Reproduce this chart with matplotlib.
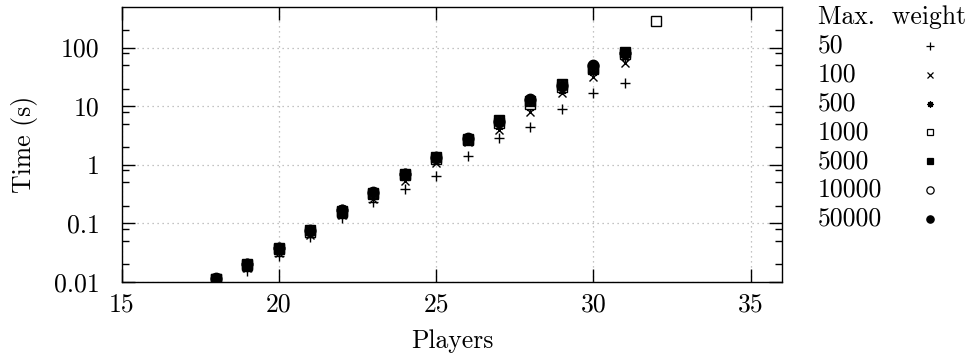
import matplotlib
matplotlib.use("Agg")
import matplotlib.pyplot as plt
from matplotlib.lines import Line2D
from matplotlib.ticker import FixedLocator, NullFormatter

# ================= DATA =================
players = [18, 19, 20, 21, 22, 23, 24, 25, 26, 27, 28, 29, 30, 31]
players_1000 = players + [32]

t_50 = [0.0105, 0.015, 0.027, 0.057, 0.125, 0.23, 0.38, 0.64, 1.4, 2.8, 4.4, 9.1, 17, 24.5]
t_100 = [0.011, 0.017, 0.031, 0.064, 0.14, 0.26, 0.53, 1.05, 2.4, 3.9, 8.0, 17, 31, 55]
t_500 = [0.011, 0.018, 0.034, 0.068, 0.15, 0.29, 0.62, 1.2, 2.6, 4.6, 9.5, 19, 38, 70]
t_1000 = [0.011, 0.019, 0.036, 0.072, 0.155, 0.31, 0.66, 1.25, 2.6, 5.2, 11, 21, 43, 78, 290]
t_5000 = [0.011, 0.020, 0.037, 0.076, 0.16, 0.33, 0.70, 1.33, 2.7, 5.7, 12, 24, 44, 84]
t_10000 = [0.011, 0.020, 0.037, 0.075, 0.165, 0.33, 0.68, 1.3, 2.75, 5.5, 12.5, 23, 48, 82]
t_50000 = [0.0115, 0.020, 0.038, 0.074, 0.17, 0.34, 0.68, 1.35, 2.8, 5.4, 13, 22, 50, 82]

weights = ["50", "100", "500", "1000", "5000", "10000", "50000"]
x_ticks = [15, 20, 25, 30, 35]
y_ticks = [0.01, 0.1, 1, 10, 100]
y_tick_labels = ["0.01", "0.1", "1", "10", "100"]

# ================= STYLE =================
plt.rcParams["font.family"] = ["cmr10", "DejaVu Serif"]
plt.rcParams["axes.formatter.use_mathtext"] = True
FS = 18.5

# (x, y, marker, size, filled)
series = [
    (players, t_50, "+", 7.5, True),
    (players, t_100, "x", 5.5, True),
    (players, t_500, (8, 2, 0), 6.5, True),
    (players_1000, t_1000, "s", 7, False),
    (players, t_5000, "s", 7, True),
    (players, t_10000, "o", 7.5, False),
    (players, t_50000, "o", 7.5, True),
]

fig = plt.figure(figsize=(9.71, 3.56), dpi=100)
ax = fig.add_axes([0.1253, 0.2087, 0.6801, 0.7725])

for xs, ys, m, ms, filled in series:
    ax.plot(xs, ys, linestyle="none", marker=m, markersize=ms,
            color="black", markeredgewidth=1.0,
            markerfacecolor="black" if filled else "white")

ax.set_yscale("log")
ax.set_xlim(15, 36)
ax.set_ylim(0.01, 500)

ax.xaxis.set_major_locator(FixedLocator(x_ticks))
ax.set_xticklabels([str(v) for v in x_ticks])
ax.yaxis.set_major_locator(FixedLocator(y_ticks))
ax.set_yticklabels(y_tick_labels)
minor = [m * 10.0 ** e for e in range(-2, 3) for m in (2, 5, 8)]
ax.yaxis.set_minor_locator(FixedLocator([v for v in minor if v < 500]))
ax.yaxis.set_minor_formatter(NullFormatter())
ax.xaxis.set_minor_locator(FixedLocator([]))

ax.tick_params(which="major", direction="in", length=9.4, width=1.0,
               top=True, right=True, labelsize=FS, colors="black")
ax.tick_params(axis="x", which="major", pad=8)
ax.tick_params(axis="y", which="major", pad=16)
ax.tick_params(which="minor", direction="in", length=5, width=1.0,
               left=True, right=True)

ax.grid(True, which="major", linestyle=(0, (1, 3)), color="#b0b0b0", linewidth=0.9)
ax.set_axisbelow(True)
for sp in ax.spines.values():
    sp.set_linewidth(1.0)

ax.set_xlabel("Players", fontsize=FS, labelpad=9)
ax.yaxis.set_label_coords(-0.126, 0.5)
ax.set_ylabel("Time (s)", fontsize=FS)

# ================= KEY =================
key_x_text = 818 / 971
key_x_mark = 930 / 971
fig.text(key_x_text, 1 - 17 / 356, "Max.  weight", fontsize=FS, va="center", ha="left")
for i, (name, (_, _, m, ms, filled)) in enumerate(zip(weights, series)):
    yy = 1 - (46 + i * 28.8) / 356
    fig.text(key_x_text, yy, name, fontsize=FS, va="center", ha="left")
    fig.add_artist(Line2D([key_x_mark], [yy], transform=fig.transFigure,
                          linestyle="none", marker=m, markersize=ms * 0.7,
                          color="black", markeredgewidth=0.9,
                          markerfacecolor="black" if filled else "white"))

fig.savefig("out.png", dpi=100)
